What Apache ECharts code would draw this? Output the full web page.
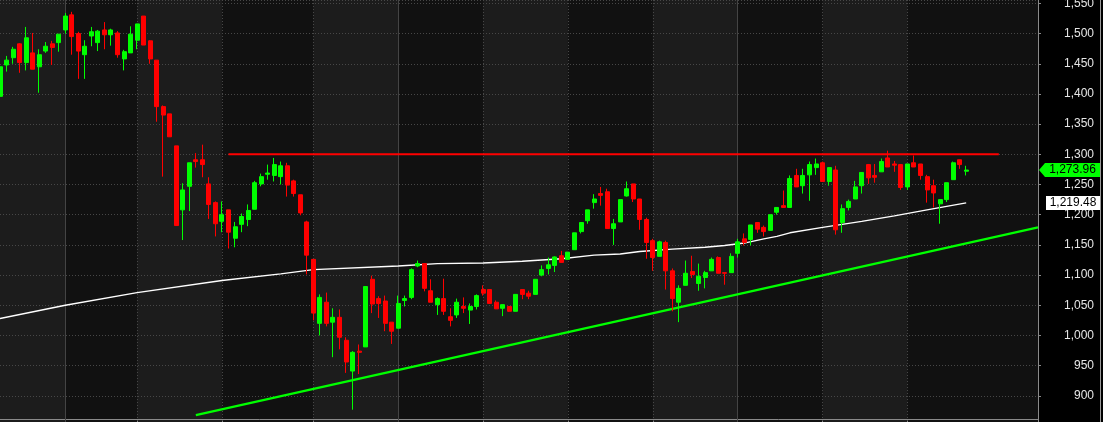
<!DOCTYPE html>
<html><head><meta charset="utf-8">
<script src="https://cdn.jsdelivr.net/npm/echarts@6/dist/echarts.min.js"></script>
<style>html,body{margin:0;padding:0;background:#000;}#c{width:1103px;height:422px;}</style>
</head><body><div id="c"></div>
<script>
// ---- data ----
const opens  = [1396,1448,1460,1483,1452,1468,1445,1471,1483,1485,1506,1531,1500,1465,1496,1485,1506,1498,1501,1458,1468,1489,1529,1488,1456,1379,1367,1314,1208,1247,1291,1291,1251,1220,1189,1208,1161,1184,1192,1209,1251,1267,1265,1263,1281,1256,1233,1188,1126,1020,1055,1022,1030,992,941,974,981,1093,1061,1057,1022,1012,1058,1063,1115,1119,1074,1051,1061,1031,1034,1048,1042,1048,1076,1076,1055,1045,1048,1040,1076,1070,1068,1100,1111,1116,1132,1126,1142,1172,1190,1220,1235,1238,1177,1188,1231,1251,1226,1192,1157,1131,1154,1107,1055,1083,1106,1086,1096,1107,1129,1104,1104,1136,1160,1159,1187,1179,1174,1204,1215,1212,1265,1248,1266,1278,1286,1255,1274,1187,1212,1226,1248,1283,1265,1271,1294,1284,1283,1246,1286,1284,1263,1248,1218,1225,1258,1291,1272];
const closes = [1445,1456,1474,1452,1493,1441,1465,1479,1477,1499,1529,1495,1471,1479,1503,1504,1498,1506,1465,1470,1499,1516,1481,1458,1379,1365,1329,1182,1241,1286,1288,1283,1217,1185,1200,1171,1180,1197,1207,1253,1263,1269,1283,1281,1249,1235,1203,1133,1037,1063,1020,1030,997,956,972,972,1081,1052,1053,1020,1007,1053,1061,1109,1119,1078,1055,1061,1040,1025,1055,1045,1048,1066,1070,1053,1044,1051,1040,1068,1068,1065,1093,1109,1117,1130,1121,1138,1170,1187,1208,1226,1232,1177,1185,1225,1243,1226,1192,1154,1129,1155,1107,1061,1078,1103,1101,1098,1104,1126,1103,1103,1131,1155,1154,1183,1176,1172,1200,1212,1212,1260,1246,1265,1283,1284,1255,1278,1175,1210,1222,1246,1270,1261,1262,1288,1279,1282,1245,1284,1279,1265,1241,1236,1225,1253,1286,1283,1273.96];
const lows   = [1392,1437,1450,1435,1439,1441,1402,1468,1448,1470,1500,1465,1425,1425,1479,1471,1474,1480,1460,1439,1468,1474,1481,1450,1354,1263,1329,1182,1158,1206,1278,1262,1193,1164,1171,1144,1146,1171,1181,1209,1247,1258,1255,1250,1230,1230,1199,1101,1025,1000,1015,964,977,938,877,936,981,1037,1029,1007,986,1012,1048,1060,1113,1073,1055,1034,1034,1015,1029,1037,1019,1043,1066,1053,1044,1032,1039,1040,1060,1060,1068,1098,1101,1105,1121,1126,1142,1169,1185,1210,1215,1177,1150,1188,1230,1221,1175,1127,1107,1131,1076,1040,1022,1083,1095,1074,1078,1107,1103,1084,1104,1129,1149,1149,1170,1164,1174,1200,1212,1212,1246,1235,1223,1266,1255,1248,1167,1170,1207,1226,1235,1251,1253,1271,1279,1271,1241,1241,1279,1258,1220,1212,1185,1221,1258,1276,1265];
const highs  = [1447,1463,1478,1484,1511,1501,1474,1486,1488,1499,1534,1536,1503,1489,1511,1506,1519,1508,1504,1473,1512,1516,1529,1489,1456,1381,1367,1314,1252,1286,1302,1316,1262,1222,1222,1208,1188,1202,1217,1256,1268,1283,1294,1288,1286,1258,1233,1190,1126,1068,1071,1045,1043,997,974,985,1081,1099,1065,1066,1022,1066,1066,1111,1124,1119,1093,1063,1094,1045,1061,1063,1053,1068,1083,1076,1058,1051,1048,1068,1076,1074,1093,1116,1129,1131,1140,1138,1170,1187,1208,1234,1246,1243,1193,1225,1255,1251,1226,1195,1160,1157,1157,1111,1083,1124,1132,1119,1107,1129,1131,1104,1136,1160,1169,1183,1187,1182,1200,1212,1240,1265,1276,1276,1288,1293,1288,1278,1281,1217,1225,1256,1270,1284,1284,1293,1306,1289,1284,1284,1298,1284,1266,1258,1225,1253,1288,1291,1281];
// moving average, read at sample candles: [candle index, value]
const maIdx = [0,10,21,34,43,48,61,67,74,80,86,91,95,98,103,108,111,114,117,119,121,126,132,137,142,148];
const maVal = [1028,1050,1071,1091,1102,1109,1115,1119,1120,1123,1127,1133,1135,1139,1143,1146,1149,1153,1160,1164,1170,1179,1189,1198,1208,1219.48];
const resistanceIdx = [35,153];
const resistanceVal = [1300,1300];
const trendIdx = [30,159];
const trendVal = [868,1179];
const lastClose = 1273.96;
const lastMA = 1219.48;
const slotCount = 160;
const categories = Array.from({length: slotCount}, (_, i) => 'D' + (i + 1));
const gridIdx = [10,21,34,48,61,74,87,100,113,126,139];
const solidIdx = [10,61,113];
const bandEdges = [0].concat(gridIdx, [slotCount - 1]);
const yMin = 850, yMax = 1555.6, yStep = 50;

// ---- chart ----
const chart = echarts.init(document.getElementById('c'), null, {renderer: 'canvas'});
const fmt = v => v.toLocaleString('en-US');
const fmt2 = v => v.toLocaleString('en-US', {minimumFractionDigits: 2, maximumFractionDigits: 2});
const gridColor = '#474747';
const axisColor = '#8a8a8a';
const baseX = {type: 'category', data: categories, boundaryGap: false, gridIndex: 0,
  axisLine: {show: false}, axisTick: {show: false}, axisLabel: {show: false}, splitLine: {show: false}};

chart.setOption({
  animation: false,
  backgroundColor: '#000',
  grid: {left: 0, top: 0, width: 1038, height: 426, show: true, backgroundColor: '#111111', borderWidth: 0,
    containLabel: false, outerBoundsMode: 'none'},
  xAxis: [
    Object.assign({}, baseX, {
      offset: -6.5,
      axisLine: {show: true, lineStyle: {color: axisColor, width: 1}},
      axisTick: {show: true, interval: (i) => gridIdx.includes(i), length: 3, lineStyle: {color: axisColor}},
      splitArea: {show: true, interval: (i) => bandEdges.includes(i), areaStyle: {color: ['#1c1c1c', 'rgba(0,0,0,0)']}}
    }),
    Object.assign({}, baseX, {z: 1,
      splitLine: {show: true, interval: (i) => gridIdx.includes(i), lineStyle: {color: gridColor, type: [1, 2], width: 1}}}),
    Object.assign({}, baseX, {z: 1,
      splitLine: {show: true, interval: (i) => solidIdx.includes(i), lineStyle: {color: '#444', type: 'solid', width: 1}}})
  ],
  yAxis: [
    {type: 'value', position: 'right', min: yMin, max: yMax, interval: yStep, z: 1,
      axisLine: {show: true, lineStyle: {color: axisColor}},
      axisTick: {show: true, length: 3, lineStyle: {color: axisColor}},
      axisLabel: {showMaxLabel: false, showMinLabel: false, color: '#e6e6e6', fontSize: 12,
        fontFamily: 'Liberation Sans, Arial, sans-serif', align: 'right', margin: 56, formatter: fmt},
      splitLine: {show: true, lineStyle: {color: gridColor, type: [1, 2], width: 1}}
    },
    {type: 'value', position: 'right', offset: 62, min: yMin, max: yMax, interval: yStep,
      axisLine: {show: true, lineStyle: {color: '#9a9a9a'}}, axisTick: {show: false},
      axisLabel: {show: false}, splitLine: {show: false}}
  ],
  series: [
    {type: 'line', name: 'trend', z: 2, xAxisIndex: 0, yAxisIndex: 0, symbol: 'none',
      data: trendIdx.map((x, i) => [x, trendVal[i]]),
      lineStyle: {color: '#00ff00', width: 2.2}},
    {type: 'line', name: 'resistance', z: 2, symbol: 'none',
      data: resistanceIdx.map((x, i) => [x, resistanceVal[i]]),
      lineStyle: {color: '#ff0000', width: 2}},
    {type: 'line', name: 'MA', z: 2, symbol: 'none', clip: false,
      data: maIdx.map((x, i) => [x, maVal[i]]),
      lineStyle: {color: '#ffffff', width: 1.4}},
    {type: 'line', name: 'tags', z: 4, symbol: 'none', clip: false, data: [],
      markPoint: {
        silent: true,
        symbolKeepAspect: false,
        data: [
          {coord: [slotCount - 1, lastClose], symbol: 'path://M0,7L6,0L61,0L61,14L6,14Z', symbolSize: [61, 14],
            symbolOffset: [31.5, 0], itemStyle: {color: '#00ff00'},
            label: {show: true, position: 'inside', formatter: fmt2(lastClose), color: '#000', fontSize: 12,
              fontFamily: 'Liberation Sans, Arial, sans-serif', offset: [3, 0]}},
          {coord: [slotCount - 1, lastMA], symbol: 'rect', symbolSize: [54, 14],
            symbolOffset: [35, 0], itemStyle: {color: '#ffffff'},
            label: {show: true, position: 'inside', formatter: fmt2(lastMA), color: '#000', fontSize: 12,
              fontFamily: 'Liberation Sans, Arial, sans-serif'}}
        ]
      }},
    {type: 'candlestick', name: 'price', z: 3, barWidth: 4.5,
      data: opens.map((o, i) => [o, closes[i], lows[i], highs[i]]),
      itemStyle: {color: '#00ff00', color0: '#ff0000', borderColor: '#00ff00', borderColor0: '#ff0000', borderWidth: 1}}
  ]
});
</script></body></html>
